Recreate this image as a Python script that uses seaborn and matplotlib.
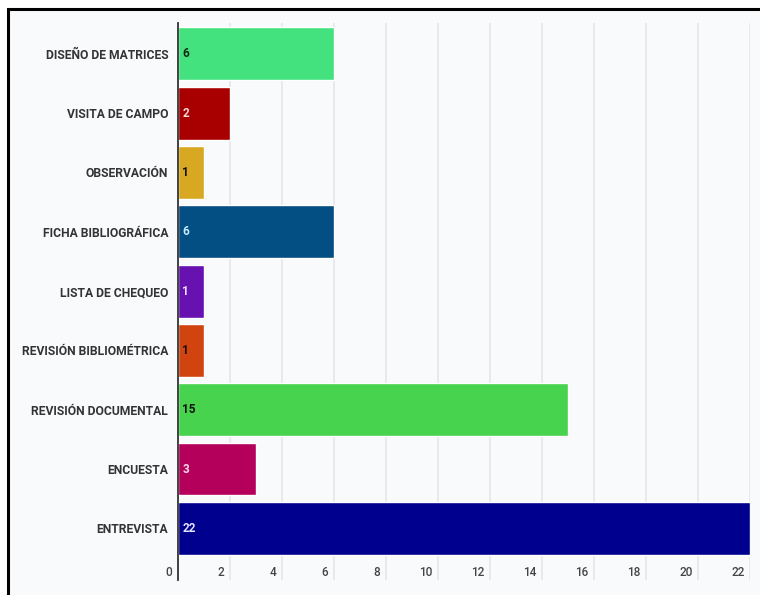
import matplotlib
matplotlib.use("Agg")
import matplotlib.pyplot as plt
import matplotlib.transforms as mtransforms
from matplotlib.patches import Rectangle
import pandas as pd
import seaborn as sns

# Data (top to bottom)
tecnicas = [
    "DISEÑO DE MATRICES",
    "VISITA DE CAMPO",
    "OBSERVACIÓN",
    "FICHA BIBLIOGRÁFICA",
    "LISTA DE CHEQUEO",
    "REVISIÓN BIBLIOMÉTRICA",
    "REVISIÓN DOCUMENTAL",
    "ENCUESTA",
    "ENTREVISTA",
]
frecuencia = [6, 2, 1, 6, 1, 1, 15, 3, 22]
x_ticks = list(range(0, 23, 2))

bar_colors = ["#44e27f", "#a80000", "#d9a823", "#034e82", "#6611b0",
              "#d14410", "#47d34d", "#b5005b", "#00008f"]
label_colors = ["#0b2a14", "#f6dada", "#111111", "#c8ecff", "#ece0fa",
                "#111111", "#111111", "#f8d8e8", "#e4e4ff"]

df = pd.DataFrame({"tecnica": tecnicas, "n": frecuencia})

sns.set_theme(style="white")
plt.rcParams["font.family"] = ["Roboto", "DejaVu Sans"]

bg = "#f8fafc"
fig = plt.figure(figsize=(7.6, 5.95), dpi=100, facecolor="white")

# Outer frame (cropped at right/bottom in the reference)
fig.patches.append(Rectangle((8 / 760, -0.05), 1.1, 0.05 + 586 / 595,
                             transform=fig.transFigure, facecolor=bg,
                             edgecolor="black", linewidth=2.2, zorder=-10))

ax = fig.add_axes([178 / 760, 15 / 595, 572 / 760, 557 / 595])
ax.set_facecolor(bg)

sns.barplot(data=df, x="n", y="tecnica", hue="tecnica",
            palette=dict(zip(tecnicas, bar_colors)), legend=False,
            orient="h", width=0.89, saturation=1, ax=ax, zorder=2)

ax.set_xlim(0, 22)
ax.set_ylim(8.87, -0.52)
ax.set_xticks(x_ticks)
ax.set_xlabel("")
ax.set_ylabel("")

# Grid and spines
ax.grid(axis="x", color="#e2e5e9", linewidth=1.1, zorder=0)
ax.grid(axis="y", visible=False)
ax.set_axisbelow(True)
for side in ["top", "right", "bottom"]:
    ax.spines[side].set_visible(False)
ax.spines["left"].set_color("#333333")
ax.spines["left"].set_linewidth(1.3)
ax.spines["left"].set_zorder(3)

# Category labels
ax.tick_params(axis="y", length=0, pad=7)
for lbl in ax.get_yticklabels():
    lbl.set_fontsize(8.7)
    lbl.set_fontweight("bold")
    lbl.set_color("#333333")

# X tick labels sit inside the plot, left of each gridline
ax.tick_params(axis="x", length=0, pad=-10)
shift = mtransforms.ScaledTranslation(-4 / 72, 0, fig.dpi_scale_trans)
for lbl in ax.get_xticklabels():
    lbl.set_fontsize(8.5)
    lbl.set_fontweight("medium")
    lbl.set_color("#444444")
    lbl.set_horizontalalignment("right")
    lbl.set_transform(lbl.get_transform() + shift)

# Value labels at the base of each bar
for i, (val, col) in enumerate(zip(frecuencia, label_colors)):
    ax.annotate(str(val), xy=(0, i), xytext=(3, 0), textcoords="offset points",
                ha="left", va="center", fontsize=8.5, fontweight="bold",
                color=col, zorder=4)

fig.savefig("out.png", dpi=100, facecolor=fig.get_facecolor())
